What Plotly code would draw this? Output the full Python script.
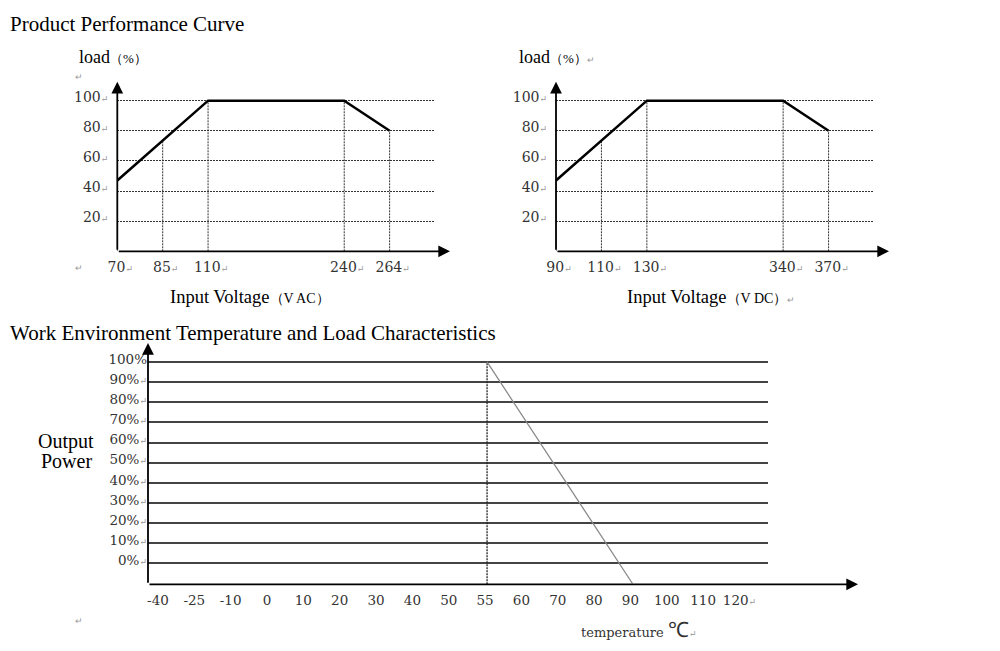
import numpy as np
import plotly.graph_objects as go

# ---------------- data ----------------
ac_ticks = [70, 85, 110, 240, 264]            # input voltage, V AC
ac_curve_v = [70, 110, 240, 264]
ac_curve_load = [47, 100, 100, 80]            # load %

dc_ticks = [90, 110, 130, 340, 370]           # input voltage, V DC
dc_curve_v = [90, 130, 340, 370]
dc_curve_load = [47, 100, 100, 80]

load_ticks = [20, 40, 60, 80, 100]

temp_ticks = [-40, -25, -10, 0, 10, 20, 30, 40, 50, 55, 60, 70, 80, 90, 100, 110, 120]
power_ticks = [0, 10, 20, 30, 40, 50, 60, 70, 80, 90, 100]
derate_temp = [55, 90]
derate_load = [100, -10]

# ---------------- layout helpers ----------------
# page body keeps its default 8px margin, so the figure is sized to fit inside it
W, H = 984, 635
OFF = 8
SERIF = "Liberation Serif"
DIGITS = "DejaVu Serif"
RET = "<span style='font-size:9px;color:#999'>↵</span>"


def px(x):
    return (x - OFF) / W


def py(y):
    return 1 - (y - OFF) / H


# schematic (not to scale) voltage axes: break between the 3rd and 4th tick
volt_slots = [0, 1, 2, 5, 6]
temp_slots = list(range(len(temp_ticks)))

fig = go.Figure()

dot = "2px,1px"


def voltage_panel(ticks, curve_v, curve_load, xa, ya):
    cs = np.interp(curve_v, ticks, volt_slots)
    # dotted drop lines from each tick up to the curve
    xs, ys = [], []
    for s in volt_slots:
        xs += [s, s, None]
        ys += [0, float(np.interp(s, cs, curve_load)), None]
    fig.add_trace(go.Scatter(x=xs, y=ys, mode="lines", xaxis=xa, yaxis=ya,
                             line=dict(color="#333", width=1, dash=dot),
                             hoverinfo="skip", showlegend=False))
    fig.add_trace(go.Scatter(x=cs, y=curve_load, mode="lines", xaxis=xa, yaxis=ya,
                             line=dict(color="black", width=2.5),
                             showlegend=False))


voltage_panel(ac_ticks, ac_curve_v, ac_curve_load, "x", "y")
voltage_panel(dc_ticks, dc_curve_v, dc_curve_load, "x2", "y2")

# temperature derating
y3_range = [-10.4, 109.4]
ds = np.interp(derate_temp, temp_ticks, temp_slots)
fig.add_trace(go.Scatter(x=[ds[0], ds[0]], y=[y3_range[0], derate_load[0]], mode="lines",
                         xaxis="x3", yaxis="y3",
                         line=dict(color="#222", width=1.3, dash=dot),
                         hoverinfo="skip", showlegend=False))
fig.add_trace(go.Scatter(x=ds, y=derate_load, mode="lines", xaxis="x3", yaxis="y3",
                         line=dict(color="#888", width=1.3), showlegend=False))

tick_font = dict(family=DIGITS, size=14, color="#333")
tick_font3 = dict(family=DIGITS, size=13.5, color="#333")


def xax(domain, rng, tickvals, ticktext, anchor, font, shift, standoff):
    return dict(domain=domain, range=rng, tickvals=tickvals, ticktext=ticktext,
                anchor=anchor, showgrid=False, zeroline=False, showline=False,
                ticks="", tickfont=font, ticklabelshift=shift,
                ticklabelstandoff=standoff, automargin=False, fixedrange=True)


def yax(domain, rng, tickvals, ticktext, anchor, font, grid, shift, standoff):
    return dict(domain=domain, range=rng, anchor=anchor, tickvals=tickvals,
                ticktext=ticktext, showgrid=True, zeroline=False, showline=False,
                ticks="", tickfont=font, ticklabelshift=shift,
                ticklabelstandoff=standoff, automargin=False, fixedrange=True, **grid)


grid_top = dict(gridcolor="#333", gridwidth=1, griddash=dot)
grid_bottom = dict(gridcolor="#444", gridwidth=1.5)

fig.update_layout(
    width=W, height=H,
    margin=dict(l=0, r=0, t=0, b=0, autoexpand=False),
    paper_bgcolor="white", plot_bgcolor="white",
    font=dict(family=SERIF, color="black"),
    showlegend=False,
    xaxis=xax([px(117.3), px(435)], [0, 7], volt_slots,
              [f"{v}{RET}" for v in ac_ticks], "y", tick_font, 3, 6),
    xaxis2=xax([px(556), px(874)], [0, 7], volt_slots,
               [f"{v}{RET}" for v in dc_ticks], "y2", tick_font, 3, 6),
    xaxis3=xax([px(148), px(768)], [-0.33, 16.73], temp_slots,
               [str(t) for t in temp_ticks[:-1]] + [f"{temp_ticks[-1]}{RET}"],
               "y3", tick_font3, -2, 6),
    yaxis=yax([py(251.3), py(81.7)], [0, 112.6], load_ticks,
              [f"{v}{RET}" for v in load_ticks], "x", tick_font, grid_top, -4, 8),
    yaxis2=yax([py(251.3), py(81.7)], [0, 112.6], load_ticks,
               [f"{v}{RET}" for v in load_ticks], "x2", tick_font, grid_top, -4, 8),
    yaxis3=yax([py(584.3), py(343)], y3_range, power_ticks,
               [f"{v}%{RET}" if v < 100 else f"{v}%" for v in power_ticks],
               "x3", tick_font3, grid_bottom, -3, 0),
)


def arrow(x0, y0, x1, y1):
    # axis line drawn from (x0, y0) to the arrow tip (x1, y1), pixel positions
    fig.add_annotation(x=px(x1), y=py(y1), xref="paper", yref="paper",
                       ax=x0 - x1, ay=y0 - y1, axref="pixel", ayref="pixel",
                       text="", showarrow=True, arrowhead=2, arrowsize=1.3,
                       arrowwidth=1.8, arrowcolor="black")


arrow(117.3, 251.3, 117.3, 81.7)
arrow(117.3, 251.3, 450, 251.3)
arrow(556, 251.3, 556, 81.7)
arrow(556, 251.3, 889, 251.3)
arrow(148, 584.3, 148, 343)
arrow(148, 584.3, 858, 584.3)


def label(x, y, text, size, xanchor="left", color="black", family=SERIF):
    fig.add_annotation(x=px(x), y=py(y), xref="paper", yref="paper", text=text,
                       showarrow=False, xanchor=xanchor, yanchor="middle",
                       font=dict(family=family, size=size, color=color))


label(8, 24, "Product Performance Curve", 21)
label(77, 57, "load<span style='font-size:13px'>（%）</span>", 18)
label(517, 57, f"load<span style='font-size:13px'>（%）</span>{RET}", 18)
label(73, 77, "↵", 9, color="#999")
label(73, 268, "↵", 9, color="#999")
label(168, 297, "Input Voltage<span style='font-size:14px'>（V AC）</span>", 18.5)
label(625, 297, f"Input Voltage<span style='font-size:14px'>（V DC）</span>{RET}", 18.5)
label(8, 333, "Work Environment Temperature and Load Characteristics", 21)
label(66, 441, "Output", 20, xanchor="center")
label(66, 461, "Power", 20, xanchor="center")
label(579, 630, f"temperature <span style='font-size:21px;font-family:Liberation Serif'>℃</span>{RET}",
      13, color="#333", family=DIGITS)
label(73, 621, "↵", 9, color="#999")

fig.write_html("out.html")
